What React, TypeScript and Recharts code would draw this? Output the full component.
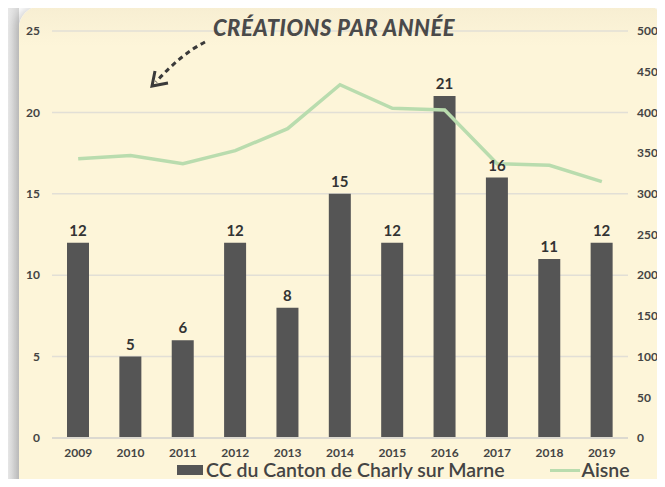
import React from 'react';
import {
  ComposedChart,
  Bar,
  Line,
  XAxis,
  YAxis,
  CartesianGrid,
  Legend,
  LabelList
} from 'recharts';

// données
const years = ['2009', '2010', '2011', '2012', '2013', '2014', '2015', '2016', '2017', '2018', '2019'];
const charly = [12, 5, 6, 12, 8, 15, 12, 21, 16, 11, 12];
const aisne = [343, 347, 337, 353, 380, 434, 405, 403, 337, 335, 315];
const leftTicks = [0, 5, 10, 15, 20, 25];
const rightTicks = [0, 50, 100, 150, 200, 250, 300, 350, 400, 450, 500];

const data = years.map((y, i) => ({ year: y, charly: charly[i], aisne: aisne[i] }));

const FONT = 'Lato, "Open Sans", sans-serif';
const INK = '#444444';
const BAR = '#555555';
const GREEN = '#b9dcae';

const renderLegend = () => (
  <div style={{ display: 'flex', justifyContent: 'flex-start', alignItems: 'center', fontFamily: FONT, fontSize: 19.5, lineHeight: '20px', color: INK, paddingLeft: 177, paddingTop: 0, whiteSpace: 'nowrap' }}>
    <span style={{ display: 'inline-block', width: 26, height: 10, background: BAR, marginRight: 3 }} />
    <span style={{ fontWeight: 600 }}>CC du Canton de Charly sur Marne</span>
    <span style={{ display: 'inline-block', width: 30, height: 3, background: GREEN, marginLeft: 45, marginRight: 2 }} />
    <span style={{ fontWeight: 600 }}>Aisne</span>
  </div>
);

const App: React.FC = () => {
  return (
    <div style={{ position: 'relative', width: 665, height: 487, margin: -8, overflow: 'hidden', background: 'linear-gradient(to right, #f3f3f3, #d9d9d9 19px, #ffffff 19px)' }}>
      {/* panneau crème */}
      <div style={{
        position: 'absolute', left: 19, top: 6, width: 644, height: 500,
        borderRadius: '22px 16px 0 0',
        background: 'linear-gradient(to bottom, #f7eed2, #fdf5d9 40px, #fdf5d9)',
        boxShadow: '-4px 0 10px rgba(0,0,0,0.18)'
      }} />

      <div style={{ position: 'absolute', left: 0, top: 0 }}>
        <ComposedChart
          width={665}
          height={487}
          data={data}
          margin={{ top: 31, right: 0, bottom: 0, left: 0 }}
          barSize={22}
        >
          <CartesianGrid yAxisId="left" vertical={false} stroke="#e2dfd6" strokeWidth={1.5} />
          <XAxis
            dataKey="year"
            height={22}
            tick={{ fontSize: 12, fontWeight: 700, fill: INK, fontFamily: FONT }}
            tickLine={false}
            axisLine={{ stroke: '#dcd9d0', strokeWidth: 2 }}
            tickMargin={4}
          />
          <YAxis
            yAxisId="left"
            orientation="left"
            width={52}
            domain={[0, 25]}
            ticks={leftTicks}
            tick={{ fontSize: 12, fontWeight: 700, fill: INK, fontFamily: FONT }}
            tickLine={false}
            axisLine={false}
            tickMargin={6}
          />
          <YAxis
            yAxisId="right"
            orientation="right"
            width={37}
            domain={[0, 500]}
            ticks={rightTicks}
            tick={{ fontSize: 12, fontWeight: 700, fill: INK, fontFamily: FONT, textAnchor: 'start' }}
            tickLine={false}
            axisLine={false}
            tickMargin={3}
          />
          <Legend verticalAlign="bottom" height={27} content={renderLegend} />
          <Bar yAxisId="left" dataKey="charly" fill={BAR} isAnimationActive={false}>
            <LabelList
              dataKey="charly"
              position="top"
              offset={7}
              style={{ fontSize: 15, fontWeight: 700, fill: '#333333', fontFamily: FONT }}
            />
          </Bar>
          <Line
            yAxisId="right"
            dataKey="aisne"
            type="linear"
            stroke={GREEN}
            strokeWidth={3.5}
            dot={false}
            isAnimationActive={false}
          />
        </ComposedChart>
      </div>

      {/* titre et flèche */}
      <div style={{
        position: 'absolute', left: 213, top: 14, fontFamily: FONT, fontStyle: 'italic',
        fontWeight: 900, fontSize: 22, color: '#4a4a4a', letterSpacing: 0.5, whiteSpace: 'nowrap'
      }}>
        CRÉATIONS PAR ANNÉE
      </div>
      <svg width={665} height={487} style={{ position: 'absolute', left: 0, top: 0, pointerEvents: 'none' }}>
        <path d="M205 42 Q180 55 156 82" fill="none" stroke="#3a3a3a" strokeWidth={3} strokeDasharray="5 4" />
        <path d="M155 71 L152 86 L168 83" fill="none" stroke="#3a3a3a" strokeWidth={3} />
      </svg>
    </div>
  );
};

export default App;
